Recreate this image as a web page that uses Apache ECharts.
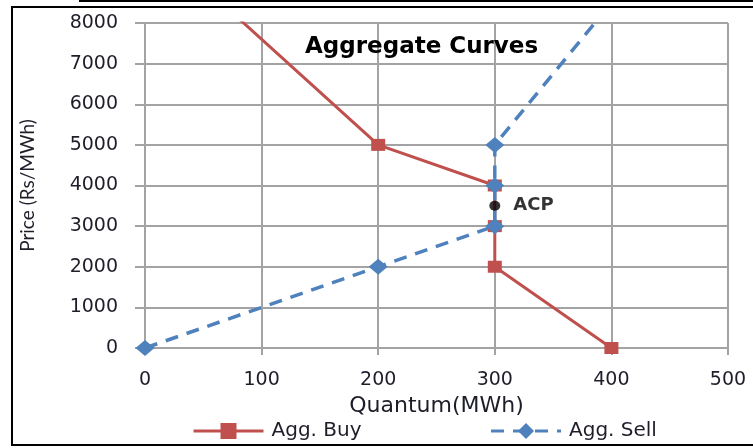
<!DOCTYPE html>
<html>
<head>
<meta charset="utf-8">
<script src="https://cdn.jsdelivr.net/npm/echarts@6/dist/echarts.min.js"></script>
<style>
  html, body { margin: 0; padding: 0; background: #fff; }
  #chart { width: 753px; height: 448px; }
</style>
</head>
<body>
<div id="chart"></div>
<script>
// quantum (MWh) / price (Rs/MWh)
var buyQty = [0, 200, 300, 300, 300, 400];
var buyPrice = [10200, 5000, 4000, 3000, 2000, 0];
var sellQty = [0, 200, 300, 300, 300, 400];
var sellPrice = [0, 2000, 3000, 4000, 5000, 8500];
var acpQty = [300];
var acpPrice = [3500];

var xTicks = [0, 100, 200, 300, 400, 500];
var yTicks = [0, 1000, 2000, 3000, 4000, 5000, 6000, 7000, 8000];

function pairs(xs, ys) {
    return xs.map(function (x, i) { return [x, ys[i]]; });
}

var gridColor = '#a3a3a3';
var labelColor = '#1e1e2a';

var chartDom = document.getElementById('chart');
var myChart = echarts.init(chartDom, null, { renderer: 'canvas' });

var option = {
    animation: false,
    title: {
        text: 'Aggregate Curves',
        left: 300,
        top: 31,
        textStyle: {
            fontFamily: 'DejaVu Sans',
            fontWeight: 'bold',
            fontSize: 23,
            color: '#000'
        }
    },
    legend: {
        data: ['Agg. Buy', 'Agg. Sell'],
        left: 192,
        top: 421,
        padding: 0,
        itemWidth: 70,
        itemHeight: 20,
        itemGap: 128,
        lineStyle: { width: 3 },
        textStyle: {
            fontFamily: 'DejaVu Sans',
            fontSize: 20,
            color: '#1e1e2a',
            padding: [0, 0, 0, 3]
        }
    },
    grid: {
        left: 145,
        right: 25,
        top: 23,
        bottom: 100
    },
    xAxis: {
        type: 'value',
        min: xTicks[0],
        max: xTicks[xTicks.length - 1],
        interval: 100,
        name: 'Quantum(MWh)',
        nameLocation: 'middle',
        nameGap: 40,
        nameTextStyle: {
            fontFamily: 'DejaVu Sans',
            fontSize: 22,
            color: '#1e1e2a'
        },
        axisLine: { show: true, lineStyle: { color: gridColor, width: 2 } },
        axisTick: { show: true, length: 7, lineStyle: { color: gridColor, width: 2 } },
        axisLabel: {
            margin: 23,
            fontFamily: 'DejaVu Sans',
            fontSize: 19,
            color: labelColor,
            formatter: function (v) { return String(v); }
        },
        splitLine: { show: true, lineStyle: { color: gridColor, width: 2 } }
    },
    yAxis: {
        type: 'value',
        min: yTicks[0],
        max: yTicks[yTicks.length - 1],
        interval: 1000,
        name: 'Price (Rs/MWh)',
        nameLocation: 'middle',
        nameGap: 108,
        nameTextStyle: {
            fontFamily: 'Lato',
            fontSize: 19,
            color: '#1e1e2a'
        },
        axisLine: { show: true, lineStyle: { color: gridColor, width: 2 } },
        axisTick: { show: true, length: 10, lineStyle: { color: gridColor, width: 2 } },
        axisLabel: {
            margin: 27,
            fontFamily: 'DejaVu Sans',
            fontSize: 19,
            color: labelColor,
            formatter: function (v) { return String(v); }
        },
        splitLine: { show: true, lineStyle: { color: gridColor, width: 2 } }
    },
    graphic: [
        {
            type: 'rect',
            shape: { x: 12, y: 7, width: 760, height: 438 },
            style: { fill: null, stroke: '#000', lineWidth: 2 },
            silent: true
        },
        {
            type: 'line',
            shape: { x1: 79, y1: 1, x2: 753, y2: 1 },
            style: { stroke: '#000', lineWidth: 2 },
            silent: true
        }
    ],
    series: [
        {
            name: 'Agg. Buy',
            type: 'line',
            data: pairs(buyQty, buyPrice),
            symbol: 'rect',
            symbolSize: [14, 12],
            color: '#c0504d',
            lineStyle: { color: '#c0504d', width: 3 },
            itemStyle: { color: '#c0504d' }
        },
        {
            name: 'Agg. Sell',
            type: 'line',
            data: pairs(sellQty, sellPrice),
            symbol: 'diamond',
            symbolSize: [19, 16],
            color: '#4f81bd',
            lineStyle: { color: '#4f81bd', width: 3.5, type: [13, 9] },
            itemStyle: { color: '#4f81bd' }
        },
        {
            name: 'ACP',
            type: 'scatter',
            data: pairs(acpQty, acpPrice),
            symbol: 'circle',
            symbolSize: [11, 10],
            itemStyle: { color: '#000' },
            z: 5,
            label: {
                show: true,
                position: 'right',
                distance: 13,
                formatter: 'ACP',
                fontFamily: 'DejaVu Sans',
                fontWeight: 'bold',
                fontSize: 18,
                color: '#000'
            }
        }
    ]
};

option && myChart.setOption(option);
</script>
</body>
</html>
